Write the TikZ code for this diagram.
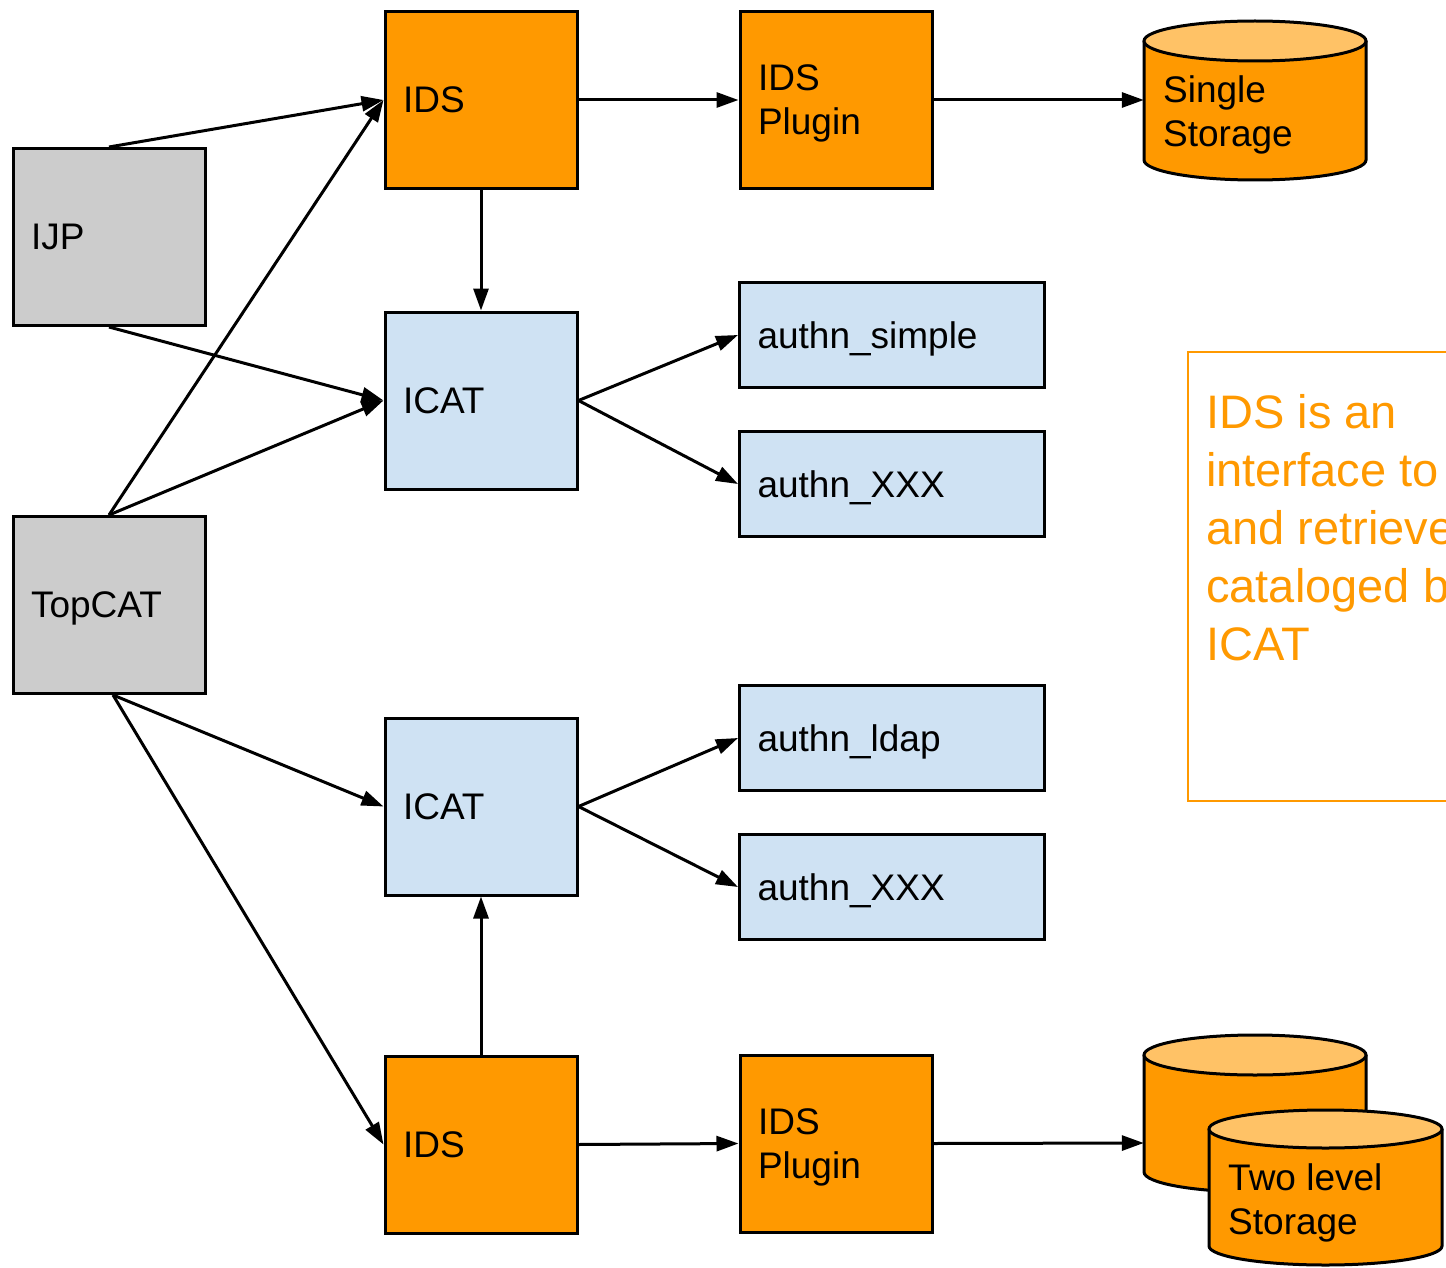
\documentclass[tikz,border=0pt]{standalone}
\usepackage{fontspec}
\setmainfont{Liberation Sans}
\usetikzlibrary{arrows.meta}
\definecolor{ora}{HTML}{FF9900}
\definecolor{oratop}{HTML}{FFC266}
\definecolor{gry}{HTML}{CCCCCC}
\definecolor{blu}{HTML}{CFE2F3}
\newcommand{\mycyl}[5]{% x1 x2 ytop ybottom ry
  \pgfmathsetmacro{\rx}{(#2-#1)/2}
  \pgfmathsetmacro{\xc}{(#2+#1)/2}
  \fill[ora] (#1,#3) -- (#1,#4) arc[start angle=180,end angle=360,x radius=\rx,y radius=#5] -- (#2,#3) -- cycle;
  \draw[line width=3pt] (#1,#3) -- (#1,#4) arc[start angle=180,end angle=360,x radius=\rx,y radius=#5] -- (#2,#3);
  \draw[line width=3pt,fill=oratop] (\xc,#3) ellipse[x radius=\rx,y radius=#5];
}
\begin{document}
\begin{tikzpicture}[x=1pt,y=1pt,
  box/.style={draw=black, line width=3pt, inner xsep=18pt, inner ysep=0pt, align=left,
    text depth=0pt, font=\fontsize{37}{44}\selectfont},
  sq/.style={box, minimum width=192pt, minimum height=177pt, text width=156pt},
  twoline/.style={text depth=44pt},
  wide/.style={box, fill=blu, minimum width=305pt, minimum height=105pt, text width=269pt},
  lbl/.style={inner sep=0pt, anchor=west, align=left, text depth=0pt, font=\fontsize{37}{44}\selectfont},
  anch/.style={inner sep=0pt, minimum width=222pt, minimum height=100pt},
  arr/.style={line width=3pt, -{Triangle[length=22pt,width=15pt]}}]
\useasboundingbox (0,0) rectangle (1446,-1268);
\clip (0,0) rectangle (1446,-1268);

% left boxes
\node[sq, fill=gry] (ijp) at (109,-237) {IJP};
\node[sq, fill=gry] (topcat) at (109,-605) {TopCAT};

% top chain
\node[sq, fill=ora] (ids1) at (481,-100) {IDS};
\node[sq, fill=ora, twoline] (plug1) at (836,-100) {IDS\\Plugin};
\node[sq, fill=blu] (icat1) at (481,-400.5) {ICAT};
\node[wide] (asimple) at (892,-335) {authn\_simple};
\node[wide] (axxx1) at (892,-484) {authn\_XXX};

% bottom chain
\node[sq, fill=blu] (icat2) at (481,-806.5) {ICAT};
\node[wide] (aldap) at (892,-738) {authn\_ldap};
\node[wide] (axxx2) at (892,-887) {authn\_XXX};
\node[sq, fill=ora] (ids2) at (481,-1144.5) {IDS};
\node[sq, fill=ora, twoline] (plug2) at (836,-1143.5) {IDS\\Plugin};

% storages
\mycyl{1144}{1366}{-41}{-160}{20}
\node[anch] (single) at (1255,-100) {};
\node[lbl] (singletxt) at (1163,-111.5) {Single\\Storage};

\mycyl{1144}{1366}{-1055}{-1172}{20}
\node[anch] (twoback) at (1255,-1143) {};
\mycyl{1209}{1442}{-1129}{-1246}{19}
\node[lbl] (twotxt) at (1228,-1199.5) {Two level\\Storage};

% note
\node[draw=ora, line width=2pt, anchor=north west, minimum width=320pt, minimum height=449pt, inner sep=0pt] (notebox) at (1187,-351) {};
\node[inner sep=0pt, anchor=west, align=left, text depth=0pt, text=ora,
  font=\fontsize{47}{58}\selectfont] (notetxt) at (1206,-527)
  {IDS is an\\interface to\\and retrieve\\cataloged by\\ICAT};

% connectors
\draw[arr] (ijp.north) -- (ids1.west);
\draw[arr] (ijp.south) -- (icat1.west);
\draw[arr] (topcat.north) -- (ids1.west);
\draw[arr] (topcat.north) -- (icat1.west);
\draw[arr] ([xshift=4pt]topcat.south) -- (icat2.west);
\draw[arr] ([xshift=4pt]topcat.south) -- (ids2.west);
\draw[arr] (ids1.east) -- (plug1.west);
\draw[arr] (plug1.east) -- (single.west);
\draw[arr] (ids1.south) -- (icat1.north);
\draw[arr] (icat1.east) -- (asimple.west);
\draw[arr] (icat1.east) -- (axxx1.west);
\draw[arr] (icat2.east) -- (aldap.west);
\draw[arr] (icat2.east) -- (axxx2.west);
\draw[arr] (ids2.north) -- (icat2.south);
\draw[arr] (ids2.east) -- (plug2.west);
\draw[arr] (plug2.east) -- (twoback.west);
\end{tikzpicture}
\end{document}
